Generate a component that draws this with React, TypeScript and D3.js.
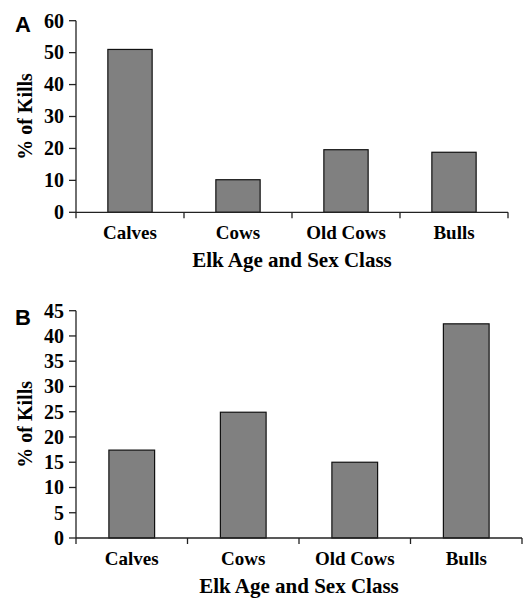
import React from "react";
import * as d3 from "d3";

const categories = ["Calves", "Cows", "Old Cows", "Bulls"];
const killsA = [51, 10.2, 19.6, 18.8];
const killsB = [17.4, 24.9, 15, 42.4];
const ticksA = [0, 10, 20, 30, 40, 50, 60];
const ticksB = [0, 5, 10, 15, 20, 25, 30, 35, 40, 45];

const SERIF = "'Liberation Serif', 'Times New Roman', serif";
const SANS = "'Liberation Sans', Arial, sans-serif";

function Panel({ letter, letterY, values, ticks, top, bottom, right, yMax }) {
  const left = 76;
  const x = d3
    .scaleBand()
    .domain(categories)
    .range([left, right])
    .paddingInner(0.59)
    .paddingOuter(0.295);
  const y = d3.scaleLinear().domain([0, yMax]).range([bottom, top]);
  const step = x.step();
  const bounds = d3.range(categories.length + 1).map(i => left + i * step);

  return (
    <g>
      <text x={15} y={letterY} fontFamily={SANS} fontWeight="bold" fontSize={22}>
        {letter}
      </text>
      {values.map((v, i) => (
        <rect
          key={categories[i]}
          x={x(categories[i])}
          y={y(v)}
          width={x.bandwidth()}
          height={y(0) - y(v)}
          fill="#808080"
          stroke="#111"
          strokeWidth={1.2}
        />
      ))}
      <line x1={left} x2={left} y1={y(yMax)} y2={y(0)} stroke="#222" strokeWidth={1.3} />
      {ticks.map(t => (
        <g key={t}>
          <line x1={left - 7} x2={left} y1={y(t)} y2={y(t)} stroke="#222" strokeWidth={1.3} />
          <text
            x={left - 12}
            y={y(t)}
            dy="0.34em"
            textAnchor="end"
            fontFamily={SERIF}
            fontWeight="bold"
            fontSize={20}
          >
            {t}
          </text>
        </g>
      ))}
      <line x1={left} x2={right} y1={y(0)} y2={y(0)} stroke="#222" strokeWidth={1.3} />
      {bounds.map((b, i) => (
        <line key={i} x1={b} x2={b} y1={y(0)} y2={y(0) + 6} stroke="#222" strokeWidth={1.3} />
      ))}
      {categories.map(c => (
        <text
          key={c}
          x={x(c) + x.bandwidth() / 2}
          y={y(0) + 27}
          textAnchor="middle"
          fontFamily={SERIF}
          fontWeight="bold"
          fontSize={19}
        >
          {c}
        </text>
      ))}
      <text
        x={(left + right) / 2}
        y={y(0) + 55}
        textAnchor="middle"
        fontFamily={SERIF}
        fontWeight="bold"
        fontSize={21}
      >
        Elk Age and Sex Class
      </text>
      <text
        transform={`translate(32,${(y(0) + y(yMax)) / 2}) rotate(-90)`}
        textAnchor="middle"
        fontFamily={SERIF}
        fontWeight="bold"
        fontSize={20}
      >
        % of Kills
      </text>
    </g>
  );
}

export default function App() {
  return (
    <svg
      width={523}
      height={598}
      style={{ position: "absolute", left: 0, top: 0, background: "#fff" }}
    >
      <Panel letter="A" letterY={32} values={killsA} ticks={ticksA} top={20.7} bottom={212.3} right={508} yMax={60} />
      <Panel letter="B" letterY={325} values={killsB} ticks={ticksB} top={310.7} bottom={538} right={522} yMax={45} />
    </svg>
  );
}
